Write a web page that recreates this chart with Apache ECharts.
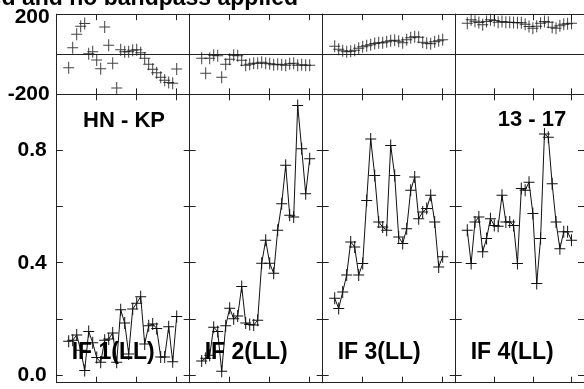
<!DOCTYPE html>
<html>
<head>
<meta charset="utf-8">
<script src="https://cdn.jsdelivr.net/npm/echarts@6/dist/echarts.min.js"></script>
<style>
html,body{margin:0;padding:0;background:#fff;}
#chart{width:584px;height:389px;}
</style>
</head>
<body>
<div id="chart"></div>
<script>
// ---- data ----
const channels = [3,4,5,6,7,8,9,10,11,12,13,14,15,16,17,18,19,20,21,22,23,24,25,26,27,28,29,30];
const ifLabels = ['IF 1(LL)', 'IF 2(LL)', 'IF 3(LL)', 'IF 4(LL)'];
const baselineLabel = 'HN - KP';
const timeLabel = '13 - 17';
const titleText = 'Data calibrated and no bandpass applied';

const ampIF1 = [0.120, 0.124, 0.142, 0.088, 0.016, 0.155, 0.115, 0.062, 0.045, 0.124, 0.128, 0.150, 0.045, 0.232, 0.185, 0.075, 0.235, 0.256, 0.279, 0.110, 0.175, 0.182, 0.166, 0.064, 0.064, 0.172, 0.047, 0.208];
const ampIF2 = [0.050, 0.060, 0.070, 0.170, 0.155, 0.013, 0.175, 0.238, 0.200, 0.210, 0.315, 0.185, 0.180, 0.178, 0.195, 0.398, 0.480, 0.398, 0.362, 0.516, 0.610, 0.747, 0.569, 0.563, 0.960, 0.806, 0.646, 0.770];
const ampIF3 = [0.273, 0.237, 0.296, 0.356, 0.474, 0.456, 0.356, 0.397, 0.622, 0.841, 0.711, 0.545, 0.527, 0.516, 0.818, 0.711, 0.492, 0.468, 0.521, 0.658, 0.705, 0.557, 0.581, 0.593, 0.640, 0.545, 0.385, 0.421];
const ampIF4 = [0.516, 0.397, 0.545, 0.563, 0.439, 0.486, 0.557, 0.533, 0.530, 0.640, 0.545, 0.545, 0.533, 0.397, 0.664, 0.658, 0.687, 0.575, 0.326, 0.486, 0.859, 0.847, 0.681, 0.545, 0.450, 0.510, 0.510, 0.480];

const phaseIF1 = [-67, 32, 100, 140, 153, 2, 12, -29, -73, 136, 45, -45, -168, 22, 13, 12, 20, 22, 8, -20, -50, -75, -92, -115, -130, -141, -145, -74];
const phaseIF2 = [-20, -95, -20, -5, -8, -115, -50, -25, -5, -8, -30, -55, -50, -45, -45, -40, -45, -48, -52, -50, -52, -55, -48, -45, -55, -52, -55, -55];
const phaseIF3 = [40, 25, 17, 13, 15, 20, 30, 37, 42, 48, 54, 58, 57, 62, 67, 70, 65, 58, 72, 82, 88, 85, 60, 55, 52, 62, 68, 72];
const phaseIF4 = [155, 172, 165, 158, 147, 163, 172, 168, 160, 163, 160, 160, 158, 157, 157, 150, 138, 130, 140, 155, 163, 160, 135, 130, 142, 150, 152, 155];

const xTicks = [10, 20, 30];
const ampTicks = [0, 0.2, 0.4, 0.6, 0.8];
const ampTickLabels = [0, 0.4, 0.8];
const phaseTickLabels = [-200, 200];

const ampSets = [ampIF1, ampIF2, ampIF3, ampIF4];
const phaseSets = [phaseIF1, phaseIF2, phaseIF3, phaseIF4];

// ---- layout ----
const panelLeft0 = 56.7, panelW = 133;
const phaseTop = 14.2, phaseH = 80.1;
const ampTop = 94.3, ampH = 288.4;
const FONT = '"Liberation Sans", Arial, Helvetica, sans-serif';
const INK = '#111';
const FRAME = '#222';
const crossPath = 'path://M0,5.5H11V6.5H0Z M5,0H6V12H5Z';

const grids = [], xAxes = [], yAxes = [], series = [];

function xAxisFor(g, pos) {
  return {
    type: 'value', gridIndex: g, position: pos, min: 0, max: 33.25,
    axisLine: {show: true, onZero: false, lineStyle: {color: FRAME, width: 1}},
    axisTick: {show: true, inside: true, length: 6, customValues: xTicks, lineStyle: {color: FRAME, width: 1}},
    axisLabel: {show: false}, splitLine: {show: false}
  };
}

for (let i = 0; i < 4; i++) {
  const left = panelLeft0 + panelW * i;
  const gP = 2 * i, gA = 2 * i + 1;
  grids.push({left: left, top: phaseTop, width: panelW, height: phaseH, containLabel: false});
  grids.push({left: left, top: ampTop, width: panelW, height: ampH, containLabel: false});

  // phase grid axes
  xAxes.push(xAxisFor(gP, 'bottom'));
  xAxes.push(xAxisFor(gP, 'top'));
  ['left', 'right'].forEach(pos => {
    const showLab = (i === 0 && pos === 'left');
    yAxes.push({
      type: 'value', gridIndex: gP, position: pos, min: -200, max: 200, interval: 200,
      axisLine: {show: true, onZero: false, lineStyle: {color: FRAME, width: 1}},
      axisTick: {show: false},
      splitLine: {show: pos === 'left', lineStyle: {color: FRAME, width: 1}},
      axisLabel: showLab ? {
        show: true, customValues: phaseTickLabels, margin: 7,
        formatter: v => (v > 0 ? '{t|' + v + '}' : '{b|' + v + '}'),
        rich: {
          t: {fontFamily: FONT, fontWeight: 'bold', fontSize: 21, color: '#000', padding: [7, 0, 0, 0]},
          b: {fontFamily: FONT, fontWeight: 'bold', fontSize: 21, color: '#000'}
        }
      } : {show: false}
    });
  });

  // amplitude grid axes
  xAxes.push(xAxisFor(gA, 'bottom'));
  xAxes.push(xAxisFor(gA, 'top'));
  ['left', 'right'].forEach(pos => {
    const showLab = (i === 0 && pos === 'left');
    yAxes.push({
      type: 'value', gridIndex: gA, position: pos, min: -0.0275, max: 1.0,
      axisLine: {show: true, onZero: false, lineStyle: {color: FRAME, width: 1}},
      axisTick: {show: true, inside: true, length: 6, customValues: ampTicks, lineStyle: {color: FRAME, width: 1}},
      splitLine: {show: false},
      axisLabel: showLab ? {
        show: true, customValues: ampTickLabels, margin: 10,
        formatter: v => Number(v).toFixed(1),
        fontFamily: FONT, fontWeight: 'bold', fontSize: 21, color: '#000'
      } : {show: false}
    });
  });

  series.push({
    type: 'scatter', xAxisIndex: 4 * i, yAxisIndex: 4 * i,
    data: channels.map((c, k) => [c, phaseSets[i][k]]),
    symbol: crossPath, symbolSize: [11, 12],
    itemStyle: {color: INK, borderWidth: 0},
    silent: true, animation: false
  });
  series.push({
    type: 'line', xAxisIndex: 4 * i + 2, yAxisIndex: 4 * i + 2,
    data: channels.map((c, k) => [c, ampSets[i][k]]),
    symbol: crossPath, symbolSize: [11, 12], showSymbol: true, showAllSymbol: true,
    itemStyle: {color: INK, borderWidth: 0},
    lineStyle: {color: INK, width: 1},
    silent: true, animation: false
  });
}

const graphics = [];
graphics.push({type: 'text', x: 298, y: -1.5, z: 100,
  style: {text: titleText, font: 'bold 23px ' + FONT, fill: '#000', align: 'right', verticalAlign: 'middle'}});
graphics.push({type: 'text', x: 124, y: 120.7, z: 100,
  style: {text: baselineLabel, font: 'bold 22px ' + FONT, fill: '#000', align: 'center', verticalAlign: 'middle'}});
graphics.push({type: 'text', x: 532, y: 120, z: 100,
  style: {text: timeLabel, font: 'bold 22px ' + FONT, fill: '#000', align: 'center', verticalAlign: 'middle'}});
ifLabels.forEach((lab, i) => {
  graphics.push({type: 'text', x: panelLeft0 + panelW * i + 15, y: 353, z: 100,
    style: {text: lab, font: 'bold 23px ' + FONT, fill: '#000', align: 'left', verticalAlign: 'middle'}});
});

const chart = echarts.init(document.getElementById('chart'), null, {renderer: 'canvas'});
chart.setOption({
  animation: false,
  backgroundColor: '#fff',
  grid: grids, xAxis: xAxes, yAxis: yAxes, series: series,
  graphic: graphics
});
</script>
</body>
</html>
